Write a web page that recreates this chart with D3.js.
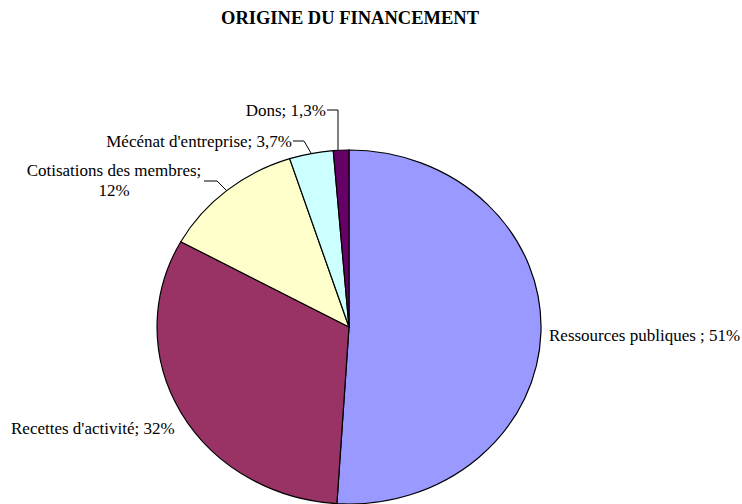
<!DOCTYPE html>
<html>
<head>
<meta charset="utf-8">
<script src="https://cdnjs.cloudflare.com/ajax/libs/d3/7.8.5/d3.min.js"></script>
<style>
  body { margin: 0; background: #fff; }
  svg { display: block; }
</style>
</head>
<body>
<div id="chart"></div>
<script>
// data
var categories = ["Ressources publiques", "Recettes d'activité", "Cotisations des membres", "Mécénat d'entreprise", "Dons"];
var shares = [51, 32, 12, 3.7, 1.3];
var shareLabels = ["51%", "32%", "12%", "3,7%", "1,3%"];
var colors = ["#9999FF", "#993366", "#FFFFCC", "#CCFFFF", "#660066"];

var width = 742, height = 504;
var cx = 349, cy = 327, rx = 192, ry = 177;
var serif = '"Liberation Serif", "Times New Roman", "DejaVu Serif", serif';

var svg = d3.select('#chart')
  .append('svg')
  .attr('width', width)
  .attr('height', height);

svg.append('text')
  .attr('x', 350)
  .attr('y', 24)
  .attr('text-anchor', 'middle')
  .attr('font-family', serif)
  .attr('font-size', 18.5)
  .attr('font-weight', 'bold')
  .text('ORIGINE DU FINANCEMENT');

var pie = d3.pie().sort(null).value(d => d);
var arcs = pie(shares);
var arc = d3.arc().innerRadius(0).outerRadius(1);

var g = svg.append('g')
  .attr('transform', `translate(${cx} ${cy}) scale(${rx} ${ry})`);

g.selectAll('path')
  .data(arcs)
  .enter()
  .append('path')
  .attr('d', arc)
  .attr('fill', (d, i) => colors[i])
  .attr('stroke', '#000')
  .attr('stroke-width', 1.2)
  .attr('vector-effect', 'non-scaling-stroke');

// point on the ellipse at the middle of a slice
function edgePoint(d){
  var a = (d.startAngle + d.endAngle) / 2;
  return [cx + rx * Math.sin(a), cy - ry * Math.cos(a)];
}

// label layout (Excel placed these by hand)
var labelLayout = [
  {lines: [categories[0] + ' ; ' + shareLabels[0]], x: 549, y: 341, anchor: 'start'},
  {lines: [categories[1] + '; ' + shareLabels[1]], x: 11, y: 434, anchor: 'start'},
  {lines: [categories[2] + ';', shareLabels[2]], x: 114, y: 176, anchor: 'middle', leader: [[204, 181], [217, 181]]},
  {lines: [categories[3] + '; ' + shareLabels[3]], x: 292, y: 147, anchor: 'end', leader: [[293, 141], [304, 141]]},
  {lines: [categories[4] + '; ' + shareLabels[4]], x: 326, y: 116, anchor: 'end', leader: [[327, 110], [338, 110]]}
];

var line = d3.line();

labelLayout.forEach((lab, i) => {
  var t = svg.append('text')
    .attr('x', lab.x)
    .attr('y', lab.y)
    .attr('text-anchor', lab.anchor)
    .attr('font-family', serif)
    .attr('font-size', 17)
    .attr('fill', '#000');
  lab.lines.forEach((s, j) => {
    t.append('tspan')
      .attr('x', lab.x)
      .attr('dy', j === 0 ? 0 : 20)
      .text(s);
  });
  if (lab.leader) {
    var end = edgePoint(arcs[i]);
    var pts = lab.leader.slice();
    if (i === 4) pts.push([pts[1][0], end[1]]);
    else pts.push(end);
    svg.append('path')
      .attr('d', line(pts))
      .attr('fill', 'none')
      .attr('stroke', '#000')
      .attr('stroke-width', 1);
  }
});
</script>
</body>
</html>
